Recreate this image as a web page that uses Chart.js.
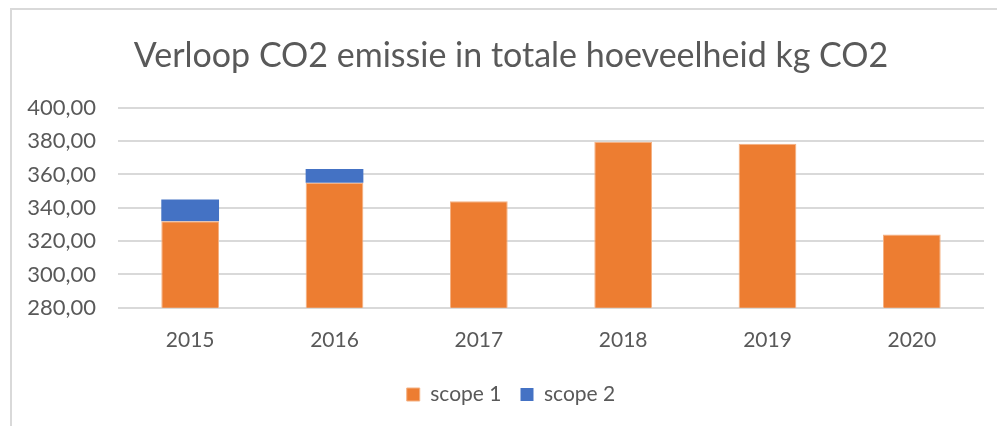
<!DOCTYPE html>
<html>
<head>
<meta charset="utf-8">
<script src="https://cdn.jsdelivr.net/npm/chart.js"></script>
<style>
  html, body { margin: 0; padding: 0; background: #fff; overflow: hidden; }
  #frame {
    position: absolute; left: 10px; top: 8px;
    width: 998px; height: 416px;
    border-left: 2px solid #d9d9d9; border-top: 2px solid #d9d9d9;
  }
  #co2Chart { display: block; }
</style>
</head>
<body>
<div id="frame"><canvas id="co2Chart" width="998" height="416"></canvas></div>
<script>
const years = ['2015', '2016', '2017', '2018', '2019', '2020'];
const scope1 = [332, 355, 344, 379.7, 378.5, 324];
const scope2 = [13, 8.3, 0, 0, 0, 0];
const seriesNames = ['scope 1', 'scope 2'];
const yTicks = { min: 280, max: 400, step: 20 };

const FONT = 'Lato, "Open Sans", sans-serif';
const GREY = '#595959';

const canvas = document.getElementById('co2Chart');
const ctx = canvas.getContext('2d');

new Chart(ctx, {
    type: 'bar',
    data: {
        labels: years,
        datasets: [
            { label: seriesNames[0], data: scope1, backgroundColor: '#ED7D31', borderColor: '#F4B183', borderWidth: 1 },
            { label: seriesNames[1], data: scope2, backgroundColor: '#4472C4', borderColor: '#4472C4', borderWidth: 0 }
        ]
    },
    options: {
        responsive: false,
        animation: false,
        layout: { padding: { top: 18, right: 0, bottom: 11, left: 0 } },
        datasets: { bar: { categoryPercentage: 1, barPercentage: 0.4 } },
        scales: {
            x: {
                stacked: true,
                grid: { display: false },
                border: { display: false },
                ticks: { color: GREY, font: { family: FONT, size: 21 }, padding: 12 }
            },
            y: {
                stacked: true,
                min: yTicks.min,
                max: yTicks.max,
                afterFit: s => { s.width = 106; },
                grid: { color: '#d9d9d9', lineWidth: 2, drawTicks: false },
                border: { display: false },
                ticks: {
                    stepSize: yTicks.step,
                    color: GREY,
                    padding: 22,
                    font: { family: FONT, size: 22 },
                    callback: v => v.toFixed(2).replace('.', ',')
                }
            },
            // empty right-hand spacer so the plot ends where the reference does
            yRight: {
                position: 'right',
                afterFit: s => { s.width = 26; },
                grid: { display: false },
                border: { display: false },
                ticks: { display: false }
            }
        },
        plugins: {
            title: {
                display: true,
                text: 'Verloop CO2 emissie in totale hoeveelheid kg CO2',
                color: GREY,
                font: { family: FONT, size: 34, weight: 'normal' },
                padding: { top: 8, bottom: 31 }
            },
            legend: {
                position: 'bottom',
                labels: {
                    color: GREY,
                    font: { family: FONT, size: 21 },
                    boxWidth: 13, boxHeight: 13,
                    padding: 19
                }
            },
            tooltip: { enabled: false }
        }
    }
});
</script>
</body>
</html>
